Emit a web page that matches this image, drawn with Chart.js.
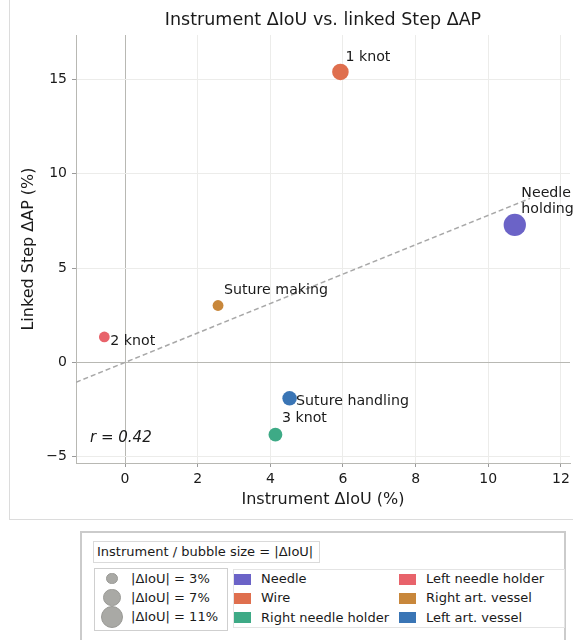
<!DOCTYPE html>
<html><head><meta charset="utf-8">
<script src="https://cdn.jsdelivr.net/npm/chart.js@4.4.0/dist/chart.umd.min.js"></script>
<style>
body{margin:0;background:#fff;font-family:"DejaVu Sans",sans-serif;color:#1a1a1a;}
#wrap{position:relative;width:573px;height:640px;overflow:hidden;background:#fff;}
#frame{position:absolute;left:9px;top:-2px;width:600px;height:522px;border:1px solid #dcdcdc;box-sizing:border-box;}
#chart{position:absolute;left:0;top:0;}
.box{position:absolute;box-sizing:border-box;background:#fff;}
.txt{position:absolute;font-size:13px;line-height:16px;height:16px;white-space:nowrap;color:#1a1a1a;}
.sw{position:absolute;width:17px;height:11px;box-sizing:border-box;}
.dot{position:absolute;border-radius:50%;background:#a9a9a5;border:1px solid #9a9a96;box-sizing:border-box;}
</style>
</head><body>
<div id="wrap">
  <div id="frame"></div>
  <canvas id="chart" width="573" height="520"></canvas>
  <div id="legend"></div>
</div>
<script>
// ---------------- data ----------------
const steps = ['1 knot', 'Needle\nholding', 'Suture making', '2 knot', 'Suture handling', '3 knot'];
const stepInstrument = ['Wire', 'Needle', 'Right art. vessel', 'Left needle holder', 'Left art. vessel', 'Right needle holder'];
const instrumentDeltaIoU = [5.93, 10.73, 2.56, -0.57, 4.53, 4.14];
const stepDeltaAP = [15.40, 7.29, 3.02, 1.35, -1.90, -3.83];
const legendInstruments = ['Needle', 'Wire', 'Right needle holder', 'Left needle holder', 'Right art. vessel', 'Left art. vessel'];
const sizeLegendValues = [3, 7, 11];
const xTicks = [0, 2, 4, 6, 8, 10, 12];
const yTicks = [-5, 0, 5, 10, 15];
const fitXRange = [-1.35, 11.15];

// ---------------- styles ----------------
const instrumentColors = {
  'Needle': '#6b63c7',
  'Wire': '#df6f4e',
  'Right needle holder': '#3eaa86',
  'Left needle holder': '#e8636b',
  'Right art. vessel': '#c8873b',
  'Left art. vessel': '#3a75b5'
};
const labelOffsets = [[5, -15], [6.5, -32], [6, -15.5], [6, 4.5], [6.5, 3.5], [6.5, -16]];
const labelLineGap = 16;
const radiusFor = v => 3.4 * Math.sqrt(Math.max(Math.abs(v), 2.5));

// regression + correlation from the data
const n = instrumentDeltaIoU.length;
const mx = instrumentDeltaIoU.reduce((a, b) => a + b, 0) / n;
const my = stepDeltaAP.reduce((a, b) => a + b, 0) / n;
let sxy = 0, sxx = 0, syy = 0;
for (let i = 0; i < n; i++) {
  const dx = instrumentDeltaIoU[i] - mx, dy = stepDeltaAP[i] - my;
  sxy += dx * dy; sxx += dx * dx; syy += dy * dy;
}
const slope = sxy / sxx, intercept = my - slope * mx;
const rVal = sxy / Math.sqrt(sxx * syy);

const FONT = '"DejaVu Sans", sans-serif';

const bubbleSets = steps.map((s, i) => ({
  type: 'bubble',
  label: s,
  data: [{x: instrumentDeltaIoU[i], y: stepDeltaAP[i], r: radiusFor(instrumentDeltaIoU[i])}],
  backgroundColor: instrumentColors[stepInstrument[i]],
  borderWidth: 0,
  order: 1
}));
const fitSet = {
  type: 'line',
  label: 'fit',
  data: fitXRange.map(xv => ({x: xv, y: slope * xv + intercept})),
  borderColor: '#a8a8a8',
  borderWidth: 1.5,
  borderDash: [5, 3],
  pointRadius: 0,
  fill: false,
  order: 10
};

const annot = {
  id: 'annot',
  afterDatasetsDraw(chart) {
    const {ctx, chartArea: a, scales: {x, y}} = chart;
    ctx.save();
    ctx.fillStyle = '#1a1a1a';
    ctx.textAlign = 'left';
    ctx.textBaseline = 'middle';
    ctx.font = '14.2px ' + FONT;
    steps.forEach((s, i) => {
      const px = x.getPixelForValue(instrumentDeltaIoU[i]);
      const py = y.getPixelForValue(stepDeltaAP[i]);
      const [dx, dy] = labelOffsets[i];
      s.split('\n').forEach((line, j) => ctx.fillText(line, px + dx, py + dy + j * labelLineGap));
    });
    ctx.font = 'italic 15px ' + FONT;
    ctx.fillText('r = ' + rVal.toFixed(2), a.left + 14, a.bottom - 25);
    ctx.restore();
  },
  afterDraw(chart) {
    const {ctx, chartArea: a} = chart;
    ctx.save();
    ctx.fillStyle = '#1a1a1a';
    ctx.textAlign = 'center';
    ctx.textBaseline = 'middle';
    ctx.font = '17.5px ' + FONT;
    ctx.fillText('Instrument ΔIoU vs. linked Step ΔAP', (a.left + a.right) / 2, 20);
    ctx.font = '16px ' + FONT;
    ctx.fillText('Instrument ΔIoU (%)', (a.left + a.right) / 2, 500);
    ctx.translate(29, (a.top + a.bottom) / 2);
    ctx.rotate(-Math.PI / 2);
    ctx.fillText('Linked Step ΔAP (%)', 0, 0);
    ctx.restore();
  }
};

const gridColor = c => (c.tick && c.tick.value === 0) ? '#b8b8b3' : '#ececea';
const zeroPad = s => { s.paddingLeft = 0; s.paddingRight = 0; s.paddingTop = 0; s.paddingBottom = 0; };

new Chart(document.getElementById('chart'), {
  type: 'bubble',
  data: {datasets: [fitSet, ...bubbleSets]},
  options: {
    responsive: false,
    animation: false,
    events: [],
    devicePixelRatio: 1,
    layout: {autoPadding: false, padding: {top: 35, right: 3, left: 0, bottom: 0}},
    plugins: {legend: {display: false}, title: {display: false}, tooltip: {enabled: false}},
    scales: {
      x: {
        type: 'linear', min: -1.35, max: 12.25,
        afterFit: s => { s.height = 57; zeroPad(s); },
        afterBuildTicks: s => { s.ticks = xTicks.map(v => ({value: v})); },
        grid: {color: gridColor, lineWidth: 1, tickLength: 4, tickColor: '#9a9a9a', drawTicks: true},
        border: {display: true, color: '#b8b8b3', width: 1},
        ticks: {font: {family: FONT, size: 14}, color: '#1a1a1a', padding: 4, maxRotation: 0,
          callback: v => String(v).replace('-', '\u2212')}
      },
      y: {
        type: 'linear', min: -5.33, max: 17.36,
        afterFit: s => { s.width = 76; zeroPad(s); },
        afterBuildTicks: s => { s.ticks = yTicks.map(v => ({value: v})); },
        grid: {color: gridColor, lineWidth: 1, tickLength: 4, tickColor: '#9a9a9a', drawTicks: true},
        border: {display: true, color: '#b8b8b3', width: 1},
        ticks: {font: {family: FONT, size: 14}, color: '#1a1a1a', padding: 5,
          callback: v => String(v).replace('-', '\u2212')}
      }
    }
  },
  plugins: [annot]
});

// ---------------- HTML legend ----------------
const L = document.getElementById('legend');
function el(cls, css, text) {
  const d = document.createElement('div');
  d.className = cls;
  Object.assign(d.style, css);
  if (text !== undefined) d.textContent = text;
  L.appendChild(d);
  return d;
}
el('box', {left: '80px', top: '531px', width: '486px', height: '150px', border: '2px solid #cbcbcb'});
el('box', {left: '93px', top: '541px', width: '227px', height: '22px', border: '1px solid #dadada'});
el('txt', {left: '97px', top: '544px'}, 'Instrument / bubble size = |ΔIoU|');
el('box', {left: '94px', top: '568px', width: '134px', height: '63px', border: '1px solid #cfcfcf'});
el('box', {left: '233px', top: '569px', width: '332px', height: '59px', border: '1px solid #e4e4e4'});
const rowY = [578.5, 597.5, 617];
sizeLegendValues.forEach((v, i) => {
  const r = radiusFor(v);
  el('dot', {left: (112 - r) + 'px', top: (rowY[i] - r) + 'px', width: 2 * r + 'px', height: 2 * r + 'px'});
  el('txt', {left: '131px', top: (rowY[i] - 8) + 'px'}, '|ΔIoU| = ' + v + '%');
});
legendInstruments.forEach((name, i) => {
  const col = Math.floor(i / 3), row = i % 3;
  const sx = col === 0 ? 234 : 399;
  const cy = rowY[row] + 0.5;
  el('sw', {left: sx + 'px', top: (cy - 5.5) + 'px', background: instrumentColors[name], border: '0.5px solid ' + instrumentColors[name]});
  el('txt', {left: (sx + 27) + 'px', top: (cy - 8) + 'px'}, name);
});
</script>
</body></html>
